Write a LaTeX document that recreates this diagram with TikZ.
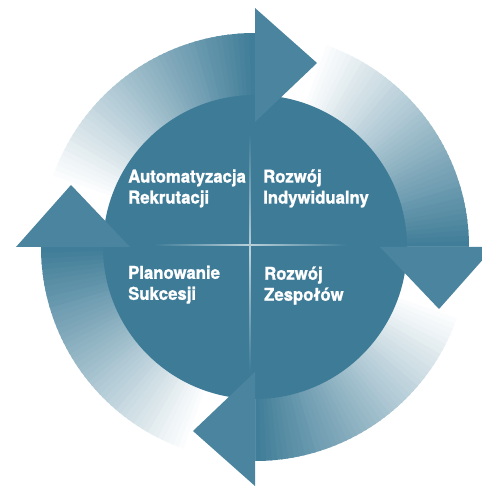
\documentclass[tikz,border=0pt]{standalone}
\usepackage{fontspec}
\setmainfont{TeX Gyre Heros}
\newfontfamily\labelfont[FakeBold=1.2, FakeStretch=0.95]{TeX Gyre Heros Bold}
\definecolor{circc}{RGB}{61,123,151}
\definecolor{headc}{RGB}{75,132,159}
\definecolor{ringc}{RGB}{64,125,152}
\tikzset{
  headstyle/.style={fill=headc, draw=none},
  labelstyle/.style={text=white, font=\labelfont\fontsize{17.6}{21}\selectfont, align=left, inner sep=0pt, anchor=north west},
}
\begin{document}
\begin{tikzpicture}[x=1pt,y=1pt]
\useasboundingbox[fill=white] (-255,-239) rectangle (226,247);
% ring bodies with angular gradient
\foreach \q in {0,1,2,3}{
  \foreach \i in {0,...,59}{
    \pgfmathsetmacro{\aone}{180-90*\q-1.5*\i}
    \pgfmathsetmacro{\atwo}{\aone-2.0}
    \pgfmathtruncatemacro{\p}{min(100,max(0,(\i/60-0.2)/0.78*100))}
    \fill[ringc!\p!white] (\aone:214) arc[start angle=\aone, end angle=\atwo, radius=214]
      -- (\atwo:140) arc[start angle=\atwo, end angle=\aone, radius=140] -- cycle;
  }
}
% inner circle
\node[circle, fill=circc, minimum size=304pt, inner sep=0pt] (core) at (0,0) {};
% arrowheads
\coordinate (t1) at (0,239); \coordinate (t2) at (0,125); \coordinate (t3) at (62,184);
\coordinate (r1) at (239,0); \coordinate (r2) at (125,0); \coordinate (r3) at (184,-62);
\coordinate (b1) at (0,-239); \coordinate (b2) at (0,-125); \coordinate (b3) at (-62,-184);
\coordinate (l1) at (-239,0); \coordinate (l2) at (-125,0); \coordinate (l3) at (-184,62);
\fill[headstyle] (t1) -- (t3) -- (t2) -- cycle;
\fill[headstyle] (r1) -- (r3) -- (r2) -- cycle;
\fill[headstyle] (b1) -- (b3) -- (b2) -- cycle;
\fill[headstyle] (l1) -- (l3) -- (l2) -- cycle;
% cross lines
\shade[left color=circc, right color=circc, middle color=circc!35!white] (-102,1.4) rectangle (92,2.6);
\shade[top color=circc, bottom color=circc, middle color=circc!35!white] (-5.6,114) rectangle (-4.4,-125);
% labels
\node[labelstyle] (auto) at (-127,77.8) {Automatyzacja\\Rekrutacji};
\node[labelstyle] (indy) at (8,77.8) {Rozwój\\Indywidualny};
\node[labelstyle] (plan) at (-127,-18.5) {Planowanie\\Sukcesji};
\node[labelstyle] (zesp) at (9,-19.3) {Rozwój\\Zespołów};
\end{tikzpicture}
\end{document}
